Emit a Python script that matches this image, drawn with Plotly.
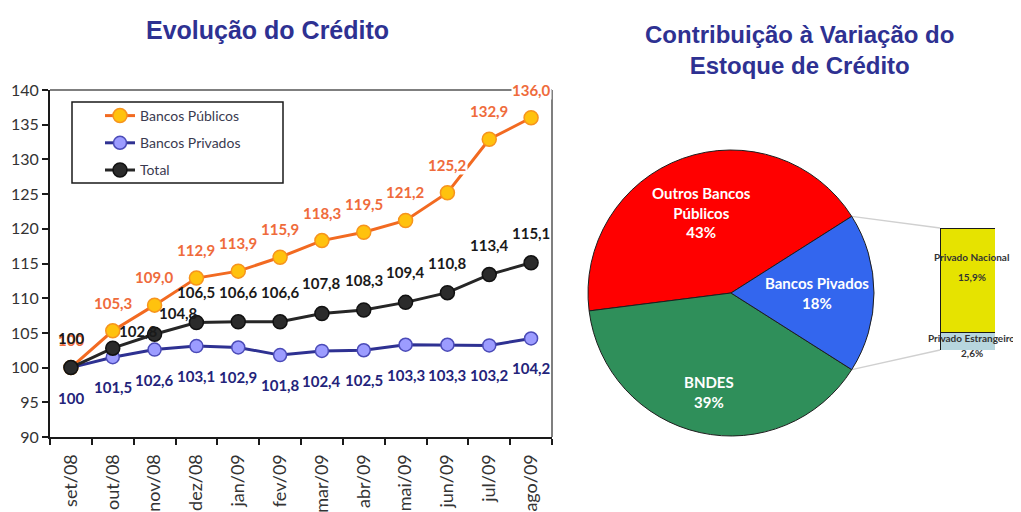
import math
import plotly.graph_objects as go

# ---------------- data ----------------
months = ["set/08", "out/08", "nov/08", "dez/08", "jan/09", "fev/09",
          "mar/09", "abr/09", "mai/09", "jun/09", "jul/09", "ago/09"]
publicos = [100, 105.3, 109.0, 112.9, 113.9, 115.9, 118.3, 119.5, 121.2, 125.2, 132.9, 136.0]
privados = [100, 101.5, 102.6, 103.1, 102.9, 101.8, 102.4, 102.5, 103.3, 103.3, 103.2, 104.2]
total = [100, 102.8, 104.8, 106.5, 106.6, 106.6, 107.8, 108.3, 109.4, 110.8, 113.4, 115.1]
y_ticks = [90, 95, 100, 105, 110, 115, 120, 125, 130, 135, 140]

pie_labels = ["Outros Bancos Públicos", "BNDES", "Bancos Pivados"]
pie_values = [43, 39, 18]
bar_labels = ["Privado Estrangeiro", "Privado Nacional"]
bar_values = [2.6, 15.9]

# ---------------- layout helpers ----------------
W, H = 1021, 512
OFF = 8  # page body margin
def px(x):
    return (x - OFF) / W
def py(y):
    return 1 - (y - OFF) / H

def fmt(v):
    return "100" if v == 100 else f"{v:.1f}".replace(".", ",")

LBL = "Lato"
fig = go.Figure()

# ---------------- line chart ----------------
series = [
    ("Bancos Públicos", publicos, dict(color="#F26A21", width=3),
     dict(size=14, color="#FFC20E", line=dict(color="#F7941D", width=1.5))),
    ("Bancos Privados", privados, dict(color="#2E3192", width=3),
     dict(size=13, color="#9C9CFF", line=dict(color="#4B4BB8", width=1.5))),
    ("Total", total, dict(color="#262626", width=3),
     dict(size=14, color="#2B2B2B", line=dict(color="#111111", width=1.5))),
]
for i, (name, vals, ln, mk) in enumerate(series):
    fig.add_trace(go.Scatter(x=months, y=vals, mode="lines+markers", name=name,
                             line=ln, marker=mk, xaxis="x", yaxis="y",
                             legendgroup=f"g{i}", hoverinfo="x+y"))

annotations = []
def lab(x, y, text, color, yshift, xshift=0, size=15, bg=None):
    a = dict(x=x, y=y, xref="x", yref="y", text=text, showarrow=False,
             xshift=xshift, yshift=yshift, xanchor="center", yanchor="middle", borderpad=0,
             font=dict(family=LBL, size=size, color=color, weight="bold"))
    if bg:
        a["bgcolor"] = bg
    annotations.append(a)

for m, v in zip(months, publicos):
    lab(m, v, fmt(v), "#EF6B3B", 28, bg="white")
for m, v in zip(months, privados):
    lab(m, v, fmt(v), "#23237A", -30)
total_shift = {1: (26, 17), 2: (24, 21)}
for i, (m, v) in enumerate(zip(months, total)):
    xs, ys = total_shift.get(i, (0, 30))
    lab(m, v, fmt(v), "#1A1A1A", ys, xs)

def paper_text(x, y, text, font):
    annotations.append(dict(x=px(x), y=py(y), xref="paper", yref="paper", showarrow=False,
                            xanchor="center", yanchor="middle", text=text, font=font))

# titles
paper_text(267, 30, "Evolução do Crédito",
           dict(family="Liberation Sans", size=25, color="#2E3192", weight="bold"))
paper_text(799, 50, "Contribuição à Variação do<br>Estoque de Crédito",
           dict(family="Liberation Sans", size=24, color="#2E3192", weight="bold"))

# ---------------- pie ----------------
cx, cy, R = 731, 293, 143
pie_total = sum(pie_values)
deg = [360 * v / pie_total for v in pie_values]
red_start_math = deg[2] / 2          # blue slice centred on 3 o'clock
# plotly (counterclockwise): first slice occupies [rotation, rotation + deg0] in clockwise bearings
rotation = (90 - red_start_math) - deg[0]
fig.add_trace(go.Pie(labels=pie_labels, values=pie_values, sort=False,
                     direction="counterclockwise", rotation=rotation,
                     marker=dict(colors=["#FF0000", "#2F8F5A", "#3366EE"],
                                 line=dict(color="#1E1E1E", width=1)),
                     textinfo="none", showlegend=False, hoverinfo="label+percent",
                     domain=dict(x=[px(cx - R), px(cx + R)], y=[py(cy + R), py(cy - R)])))

pie_display = {"Outros Bancos Públicos": "Outros Bancos<br>Públicos"}
pie_label_r = {"Outros Bancos Públicos": 0.6, "BNDES": 0.71, "Bancos Pivados": 0.6}
ang = red_start_math
for name, v, d in zip(pie_labels, pie_values, deg):
    mid = math.radians(ang + d / 2)
    r = pie_label_r[name] * R
    lx, ly = cx + r * math.cos(mid), cy - r * math.sin(mid)
    pct = round(100 * v / pie_total)
    paper_text(lx, ly, f"{pie_display.get(name, name)}<br>{pct}%",
               dict(family=LBL, size=15, color="white", weight="bold"))
    ang += d

# ---------------- bar of pie ----------------
bx0, bx1, by_top, by_bot = 940, 995, 228, 350
bar_colors = ["#B7D6DE", "#E6E300"]
for name, v, c in zip(bar_labels, bar_values, bar_colors):
    fig.add_trace(go.Bar(x=[0], y=[v], width=1, name=name, xaxis="x2", yaxis="y2",
                         marker=dict(color=c, line=dict(color="#1A1A1A", width=1)),
                         showlegend=False, hoverinfo="name+y"))
bar_shift = {"Privado Nacional": (23, 3), "Privado Estrangeiro": (3, -12)}
base = 0
for name, v in zip(bar_labels, bar_values):
    mid = base + v / 2
    s_name, s_val = bar_shift[name]
    for t, s in ((name, s_name), (f"{v:.1f}".replace(".", ",") + "%", s_val)):
        annotations.append(dict(x=0, y=mid, xref="x2", yref="y2", text=t, showarrow=False,
                                yshift=s, xshift=4, xanchor="center", yanchor="middle",
                                font=dict(family=LBL, size=10, color="#333333", weight="bold")))
    base += v

# connector lines from pie edge to bar
half = math.radians(deg[2] / 2)
shapes = []
for sgn, by in ((1, by_top), (-1, by_bot)):
    ex, ey = cx + R * math.cos(sgn * half), cy - R * math.sin(sgn * half)
    shapes.append(dict(type="line", xref="paper", yref="paper", x0=px(ex), y0=py(ey),
                       x1=px(bx0), y1=py(by), line=dict(color="#D0D0D0", width=1.5), layer="below"))

# gray top / right frame of line chart
shapes.append(dict(type="line", xref="x domain", yref="y domain", x0=0, x1=1, y0=1, y1=1,
                   line=dict(color="#7F7F7F", width=2), layer="below"))
shapes.append(dict(type="line", xref="x domain", yref="y domain", x0=1, x1=1, y0=0, y1=1,
                   line=dict(color="#7F7F7F", width=2), layer="below"))
# legend frame
shapes.append(dict(type="rect", xref="paper", yref="paper", x0=px(72), x1=px(283),
                   y0=py(183), y1=py(102), line=dict(color="#1A1A1A", width=1.5)))

fig.update_layout(
    width=W, height=H, margin=dict(l=0, r=0, t=0, b=0),
    paper_bgcolor="white", plot_bgcolor="white",
    barmode="stack",
    xaxis=dict(domain=[px(50), px(552)], type="category", range=[-0.5, len(months) - 0.5],
               tickson="boundaries",
               ticks="outside", ticklen=6, tickwidth=1.5, tickcolor="#1A1A1A",
               showline=True, linecolor="#1A1A1A", linewidth=2, showgrid=False,
               tickangle=-90, ticklabelstandoff=8,
               tickfont=dict(family=LBL, size=18, color="#333333"),
               automargin=False, anchor="y"),
    yaxis=dict(domain=[py(437), py(90)], range=[90, 140], tickvals=y_ticks,
               ticks="outside", ticklen=6, tickwidth=1.5, tickcolor="#1A1A1A",
               showline=True, linecolor="#1A1A1A", linewidth=2, showgrid=False,
               zeroline=False, tickfont=dict(family=LBL, size=16, color="#333333"),
               automargin=False, anchor="x"),
    xaxis2=dict(domain=[px(bx0), px(bx1)], range=[-0.5, 0.5], visible=False, anchor="y2"),
    yaxis2=dict(domain=[py(by_bot), py(by_top)], range=[0, sum(bar_values)], visible=False,
                anchor="x2"),
    legend=dict(x=px(100), y=py(100), xanchor="left", yanchor="top",
                bgcolor="rgba(0,0,0,0)", borderwidth=0, tracegroupgap=6,
                font=dict(family=LBL, size=14, color="#3A3A50")),
    annotations=annotations, shapes=shapes,
)

fig.write_html("out.html")
